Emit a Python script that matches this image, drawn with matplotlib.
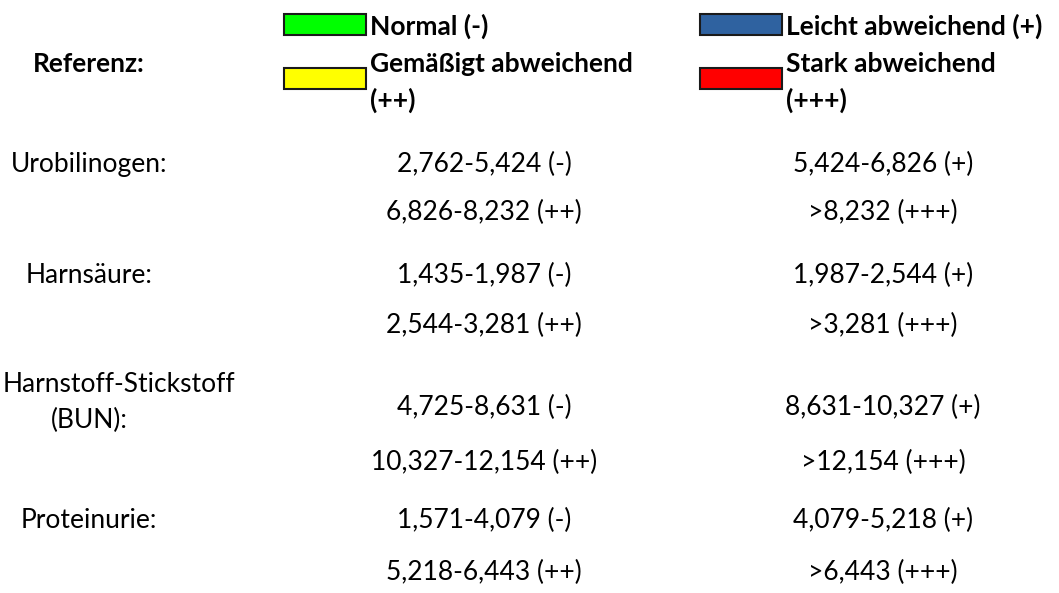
import matplotlib
matplotlib.use("Agg")
import matplotlib.pyplot as plt
from matplotlib.patches import Rectangle

plt.rcParams['font.family'] = ['Lato', 'DejaVu Sans']

# legend
legend_labels = ["Normal (-)", "Leicht abweichend (+)",
                 "Gemäßigt abweichend\n(++)", "Stark abweichend\n(+++)"]
legend_colors = ["#00ff00", "#2f62a0", "#ffff00", "#ff0000"]

# table
parameters = ["Urobilinogen:", "Harnsäure:", "Harnstoff-Stickstoff\n(BUN):", "Proteinurie:"]
col_left = ["2,762-5,424 (-)", "6,826-8,232 (++)",
            "1,435-1,987 (-)", "2,544-3,281 (++)",
            "4,725-8,631 (-)", "10,327-12,154 (++)",
            "1,571-4,079 (-)", "5,218-6,443 (++)"]
col_right = ["5,424-6,826 (+)", ">8,232 (+++)",
             "1,987-2,544 (+)", ">3,281 (+++)",
             "8,631-10,327 (+)", ">12,154 (+++)",
             "4,079-5,218 (+)", ">6,443 (+++)"]

W, H = 1059, 593
fig = plt.figure(figsize=(W / 100, H / 100), dpi=100)
ax = fig.add_axes([0, 0, 1, 1])
ax.set_xlim(0, W)
ax.set_ylim(H, 0)
ax.axis('off')

fs = 19
label_x = 89
val_x = [484, 883]

# header
ax.text(label_x, 72, "Referenz:", ha='center', va='baseline',
        fontsize=fs, fontweight='bold')
sw_x = [284, 700]
sw_y = [14, 68]
for i, (lab, col) in enumerate(zip(legend_labels, legend_colors)):
    cx = sw_x[i % 2]
    cy = sw_y[i // 2]
    ax.add_patch(Rectangle((cx, cy), 82, 21, facecolor=col,
                           edgecolor='#1a1a1a', linewidth=1.5))
    for k, line in enumerate(lab.split("\n")):
        ax.text(cx + 86, 35 + 37 * (i // 2) + 37 * k, line, ha='left',
                va='baseline', fontsize=fs, fontweight='bold')

# rows
row_base = [172, 220, 283, 333, 415, 470, 528, 580]
for i, p in enumerate(parameters):
    lines = p.split("\n")
    if len(lines) == 1:
        ax.text(label_x, row_base[2 * i], p, ha='center', va='baseline', fontsize=fs)
    else:
        ax.text(3, 392, lines[0], ha='left', va='baseline', fontsize=fs)
        ax.text(label_x, 428, lines[1], ha='center', va='baseline', fontsize=fs)

for j in range(len(col_left)):
    ax.text(val_x[0], row_base[j], col_left[j], ha='center', va='baseline', fontsize=fs)
    ax.text(val_x[1], row_base[j], col_right[j], ha='center', va='baseline', fontsize=fs)

fig.savefig("out.png", dpi=100, facecolor='white')
